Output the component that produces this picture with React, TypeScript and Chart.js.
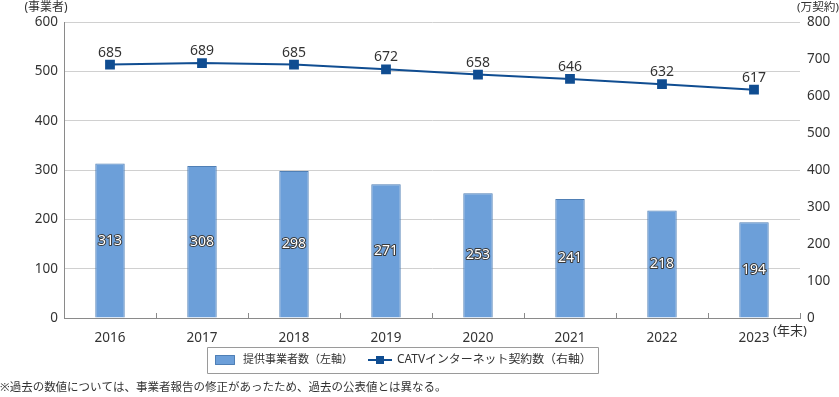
import React, { useEffect, useRef } from "react";
import { Chart, registerables } from "chart.js";

Chart.register(...registerables);

const categories = ["2016", "2017", "2018", "2019", "2020", "2021", "2022", "2023"];
const providers = [313, 308, 298, 271, 253, 241, 218, 194];
const contracts = [685, 689, 685, 672, 658, 646, 632, 617];
const leftTicks = [0, 100, 200, 300, 400, 500, 600];
const rightTicks = [0, 100, 200, 300, 400, 500, 600, 700, 800];
const barLabel = "提供事業者数（左軸）";
const lineLabel = "CATVインターネット契約数（右軸）";
const leftTitle = "(事業者)";
const rightTitle = "(万契約)";
const xUnit = "(年末)";
const footnote = "※過去の数値については、事業者報告の修正があったため、過去の公表値とは異なる。";

const FONT = "'Noto Sans', 'Noto Sans CJK JP', sans-serif";
const BAR_FILL = "#6c9fd9";
const BAR_BORDER = "#4f7fb5";
const LINE_COLOR = "#104d91";
const TEXT = "#333333";

function fitFont(ctx: CanvasRenderingContext2D, text: string, width: number, maxSize: number) {
  ctx.font = `20px ${FONT}`;
  const w = ctx.measureText(text).width;
  const size = Math.min(maxSize, (20 * width) / w);
  ctx.font = `${size.toFixed(2)}px ${FONT}`;
}

const overlay = {
  id: "overlay",
  afterDatasetsDraw(chart: any) {
    const ctx = chart.ctx;
    const area = chart.chartArea;
    ctx.save();
    // category separator ticks
    ctx.strokeStyle = "#8a8a8a";
    ctx.lineWidth = 1;
    for (let i = 1; i <= categories.length; i++) {
      const px = Math.round(area.left + (area.width / categories.length) * i) + 0.5;
      ctx.beginPath();
      ctx.moveTo(px, area.bottom);
      ctx.lineTo(px, area.bottom - 5);
      ctx.stroke();
    }
    // bar labels
    const barMeta = chart.getDatasetMeta(0);
    ctx.font = `14px ${FONT}`;
    ctx.textAlign = "center";
    ctx.textBaseline = "middle";
    ctx.lineJoin = "round";
    barMeta.data.forEach((el: any, i: number) => {
      const cy = (el.y + el.base) / 2;
      ctx.lineWidth = 2;
      ctx.strokeStyle = "#3a3a3a";
      ctx.strokeText(String(providers[i]), el.x, cy);
      ctx.fillStyle = "#ffffff";
      ctx.fillText(String(providers[i]), el.x, cy);
    });
    // line labels
    const lineMeta = chart.getDatasetMeta(1);
    ctx.fillStyle = TEXT;
    lineMeta.data.forEach((el: any, i: number) => {
      ctx.fillText(String(contracts[i]), el.x, el.y - 12);
    });
    // axis titles
    ctx.fillStyle = TEXT;
    ctx.textAlign = "center";
    fitFont(ctx, leftTitle, 43, 13);
    ctx.fillText(leftTitle, 46, 8);
    fitFont(ctx, rightTitle, 42, 13);
    ctx.fillText(rightTitle, 818, 8);
    ctx.textAlign = "left";
    fitFont(ctx, xUnit, 35, 13);
    ctx.fillText(xUnit, 773, 331);
    // legend box
    ctx.strokeStyle = "#9a9a9a";
    ctx.lineWidth = 1;
    ctx.strokeRect(207.5, 347.5, 391, 26);
    ctx.fillStyle = BAR_FILL;
    ctx.fillRect(215, 355, 20, 10);
    ctx.strokeStyle = BAR_BORDER;
    ctx.strokeRect(215.5, 355.5, 19, 9);
    ctx.fillStyle = TEXT;
    ctx.textBaseline = "middle";
    fitFont(ctx, barLabel, 110, 14);
    ctx.fillText(barLabel, 243, 360);
    ctx.strokeStyle = LINE_COLOR;
    ctx.lineWidth = 2;
    ctx.beginPath();
    ctx.moveTo(368, 360);
    ctx.lineTo(392, 360);
    ctx.stroke();
    ctx.fillStyle = LINE_COLOR;
    ctx.fillRect(376, 356, 8, 8);
    ctx.fillStyle = TEXT;
    fitFont(ctx, lineLabel, 195, 14);
    ctx.fillText(lineLabel, 397, 360);
    // footnote
    fitFont(ctx, footnote, 447, 14);
    ctx.fillText(footnote, 0, 388);
    ctx.restore();
  },
};

export default function App() {
  const ref = useRef<HTMLCanvasElement>(null);
  useEffect(() => {
    document.body.style.margin = "0";
    const canvas = ref.current!;
    const chart = new Chart(canvas, {
      type: "bar",
      data: {
        labels: categories,
        datasets: [
          {
            type: "bar",
            label: barLabel,
            data: providers,
            backgroundColor: BAR_FILL,
            borderColor: BAR_BORDER,
            borderWidth: 1,
            barPercentage: 0.32,
            categoryPercentage: 1,
            yAxisID: "y",
            order: 2,
          },
          {
            type: "line",
            label: lineLabel,
            data: contracts,
            borderColor: LINE_COLOR,
            backgroundColor: LINE_COLOR,
            borderWidth: 2,
            pointStyle: "rect",
            pointRadius: 5.5,
            pointBackgroundColor: LINE_COLOR,
            pointBorderColor: LINE_COLOR,
            yAxisID: "y1",
            order: 1,
          } as any,
        ],
      },
      options: {
        animation: false,
        responsive: false,
        maintainAspectRatio: false,
        layout: { padding: { top: 22, left: 0, right: 0, bottom: 0 } },
        plugins: { legend: { display: false }, tooltip: { enabled: false } },
        scales: {
          x: {
            grid: { display: false },
            border: { color: "#8a8a8a" },
            ticks: { color: TEXT, font: { size: 13.5, family: FONT }, padding: 4 },
            afterFit: (s: any) => { s.height = 79; },
          },
          y: {
            position: "left",
            min: 0,
            max: 600,
            afterBuildTicks: (s: any) => { s.ticks = leftTicks.map((v) => ({ value: v })); },
            grid: { color: "#d0d0d0", drawTicks: false },
            border: { color: "#8a8a8a" },
            ticks: { color: TEXT, font: { size: 13.5, family: FONT }, padding: 6 },
            afterFit: (s: any) => { s.width = 64; },
          },
          y1: {
            position: "right",
            min: 0,
            max: 800,
            afterBuildTicks: (s: any) => { s.ticks = rightTicks.map((v) => ({ value: v })); },
            grid: { display: false, drawTicks: false },
            border: { display: false },
            ticks: { color: TEXT, font: { size: 13.5, family: FONT }, padding: 7 },
            afterFit: (s: any) => { s.width = 39; },
          },
        },
      },
      plugins: [overlay],
    });
    return () => chart.destroy();
  }, []);
  return <canvas ref={ref} width={839} height={397} style={{ display: "block" }} />;
}
